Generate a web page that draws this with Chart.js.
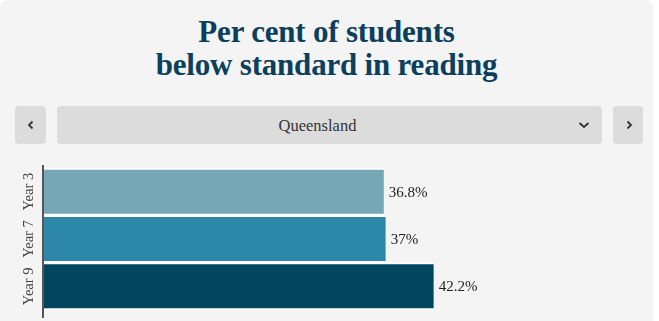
<!DOCTYPE html>
<html>
<head>
<meta charset="utf-8">
<script src="https://cdn.jsdelivr.net/npm/chart.js@4"></script>
<style>
  html, body { margin: 0; padding: 0; background: #fff; }
  .card {
    position: absolute; left: 0; top: 0; width: 653px; height: 330px;
    background: #f4f4f4; border-radius: 8px; overflow: hidden;
  }
  h1 {
    position: absolute; left: 0; top: 15px; width: 653px; margin: 0;
    text-align: center; color: #0b3f5c;
    font: bold 31px/33px "Liberation Serif", serif; letter-spacing: -0.2px;
  }
  .btn, .select {
    position: absolute; top: 106px; height: 38px; background: #dcdcdc;
    border-radius: 4px;
  }
  .btn svg, .select svg { position: absolute; top: 14px; }
  .select span {
    position: absolute; left: 0; right: 24px; top: 10px; text-align: center;
    font: 16.5px "Liberation Serif", serif; color: #333;
  }
  #wrap { position: absolute; left: 0; top: 160px; width: 653px; height: 161px; }
</style>
</head>
<body>
<div class="card">
  <h1>Per cent of students<br>below standard in reading</h1>
  <div class="btn" style="left:15px;width:31px">
    <svg width="10" height="10" style="left:11px"><path d="M6.5 1.5 L3 5 L6.5 8.5" fill="none" stroke="#333" stroke-width="1.8"/></svg>
  </div>
  <div class="select" style="left:57px;width:545px">
    <span>Queensland</span>
    <svg width="12" height="10" style="left:521px"><path d="M1.5 3 L6 7 L10.5 3" fill="none" stroke="#333" stroke-width="1.8"/></svg>
  </div>
  <div class="btn" style="left:613px;width:30px">
    <svg width="10" height="10" style="left:11px"><path d="M3.5 1.5 L7 5 L3.5 8.5" fill="none" stroke="#333" stroke-width="1.8"/></svg>
  </div>
  <div id="wrap"><canvas id="chart"></canvas></div>
</div>
<script>
const categories = ["Year 3", "Year 7", "Year 9"];
const values = [36.8, 37, 42.2];
const valueLabels = ["36.8%", "37%", "42.2%"];
const barColors = ["#76a7b7", "#2d87a8", "#02455f"];

// year labels, value labels and the axis line
const extras = {
  id: "extras",
  afterDatasetsDraw(chart) {
    const ctx = chart.ctx;
    const area = chart.chartArea;
    const meta = chart.getDatasetMeta(0);
    ctx.save();
    ctx.strokeStyle = "#555";
    ctx.lineWidth = 2;
    ctx.beginPath();
    ctx.moveTo(area.left - 1, area.top - 3);
    ctx.lineTo(area.left - 1, area.bottom + 8);
    ctx.stroke();

    meta.data.forEach((bar, i) => {
      ctx.fillStyle = "#222";
      ctx.font = "15px 'Liberation Serif', serif";
      ctx.textAlign = "left";
      ctx.textBaseline = "middle";
      ctx.fillText(valueLabels[i], bar.x + 5, bar.y + 1);

      ctx.save();
      ctx.translate(area.left - 15, bar.y);
      ctx.rotate(-Math.PI / 2);
      ctx.fillStyle = "#444";
      ctx.font = "14.5px 'Liberation Serif', serif";
      ctx.textAlign = "center";
      ctx.fillText(categories[i], 0, 0);
      ctx.restore();
    });
    ctx.restore();
  },
};

new Chart(document.getElementById("chart"), {
  type: "bar",
  data: {
    labels: categories,
    datasets: [
      {
        data: values,
        backgroundColor: barColors,
        borderColor: "#fff",
        borderWidth: { top: 2, bottom: 2, left: 0, right: 0 },
        borderSkipped: false,
        categoryPercentage: 1,
        barPercentage: 1,
      },
    ],
  },
  options: {
    indexAxis: "y",
    responsive: true,
    maintainAspectRatio: false,
    animation: false,
    layout: { padding: { left: 44, right: 55, top: 8, bottom: 11 } },
    plugins: { legend: { display: false }, tooltip: { enabled: false } },
    scales: {
      x: { display: false, min: 0, max: 60 },
      y: { display: false },
    },
  },
  plugins: [extras],
});
</script>
</body>
</html>
